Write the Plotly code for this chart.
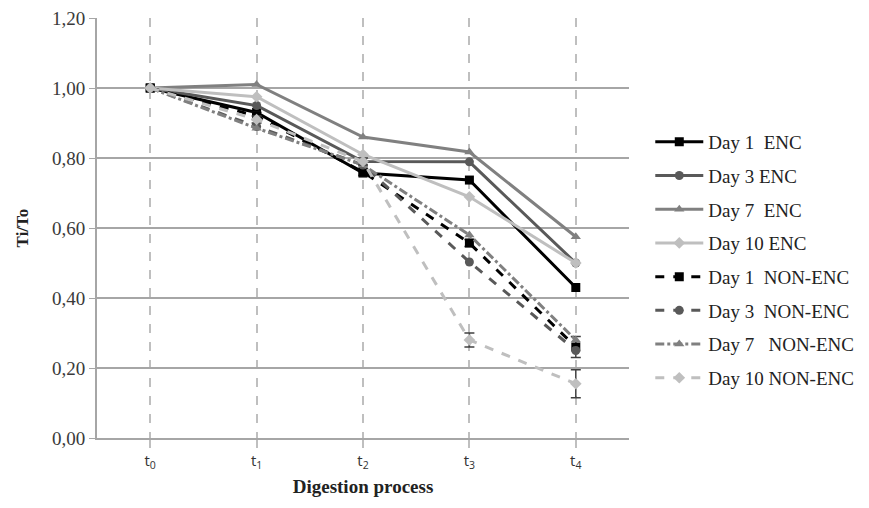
import plotly.graph_objects as go

categories = ["t<sub>0</sub>", "t<sub>1</sub>", "t<sub>2</sub>", "t<sub>3</sub>", "t<sub>4</sub>"]

day1_enc = [1.00, 0.93, 0.757, 0.737, 0.43]
day3_enc = [1.00, 0.95, 0.79, 0.789, 0.50]
day7_enc = [1.00, 1.01, 0.86, 0.817, 0.575]
day10_enc = [1.00, 0.975, 0.81, 0.689, 0.50]
day1_non = [1.00, 0.92, 0.76, 0.557, 0.26]
day3_non = [1.00, 0.89, 0.78, 0.503, 0.25]
day7_non = [1.00, 0.885, 0.78, 0.58, 0.28]
day10_non = [1.00, 0.91, 0.79, 0.28, 0.155]

err_day1_non = [0, 0.01, 0.01, 0.01, 0.03]
err_day10_non = [0, 0.01, 0.01, 0.02, 0.04]

names = ["Day 1  ENC", "Day 3 ENC", "Day 7  ENC", "Day 10 ENC",
         "Day 1  NON-ENC", "Day 3  NON-ENC", "Day 7   NON-ENC", "Day 10 NON-ENC"]

series = [day1_enc, day3_enc, day7_enc, day10_enc, day1_non, day3_non, day7_non, day10_non]
colors = ["#000000", "#595959", "#808080", "#bfbfbf", "#000000", "#595959", "#808080", "#bfbfbf"]
symbols = ["square", "circle", "triangle-up", "diamond", "square", "circle", "triangle-up", "diamond"]
dashes = ["solid", "solid", "solid", "solid", "dash", "dash", "dashdot", "dash"]
errors = [None, None, None, None, err_day1_non, None, None, err_day10_non]

fig = go.Figure()
for i, (nm, ys) in enumerate(zip(names, series)):
    kw = {}
    if errors[i] is not None:
        kw["error_y"] = dict(type="data", array=errors[i], visible=True,
                             color="#404040", thickness=1.5, width=5)
    fig.add_trace(go.Scatter(
        x=categories, y=ys, name=nm, mode="lines+markers",
        line=dict(color=colors[i], width=3, dash=dashes[i]),
        marker=dict(symbol=symbols[i], size=9, color=colors[i]),
        legendgroup=f"g{i}",
        **kw))

fig.update_layout(
    width=861, height=500,
    margin=dict(l=89, r=238, t=10, b=70),
    plot_bgcolor="white", paper_bgcolor="white",
    separators=",.",
    showlegend=True,
    legend=dict(x=1.04, y=0.75, xanchor="left", yanchor="top",
                font=dict(family="Liberation Serif", size=19, color="#222222"),
                tracegroupgap=6, itemwidth=48, bgcolor="rgba(0,0,0,0)"),
    font=dict(family="Liberation Serif", color="#404040"),
)
fig.update_xaxes(
    type="category", range=[-0.5, 4.5], automargin=False,
    showgrid=True, gridcolor="#bfbfbf", griddash="dash", gridwidth=1.5,
    showline=True, linecolor="#a6a6a6", linewidth=2,
    ticks="outside", ticklen=8, tickcolor="#bfbfbf", tickwidth=1.5,
    tickfont=dict(family="Open Sans", size=15, color="#333333"),
    title=dict(text="<b>Digestion process</b>",
               font=dict(family="Liberation Serif", size=19, color="#222222"), standoff=9),
)
fig.update_yaxes(
    range=[0, 1.2], dtick=0.2, tickformat=".2f", automargin=False,
    ticklabeloverflow="allow",
    showgrid=True, gridcolor="#a6a6a6", gridwidth=1.5,
    showline=True, linecolor="#a6a6a6", linewidth=2,
    ticks="outside", ticklen=6, tickcolor="#a6a6a6",
    tickfont=dict(family="Liberation Serif", size=19, color="#3a3a3a"),
    zeroline=False,
    title=dict(text="<b>Ti/To</b>",
               font=dict(family="Liberation Serif", size=17, color="#222222"), standoff=19),
)

fig.write_html("out.html")
